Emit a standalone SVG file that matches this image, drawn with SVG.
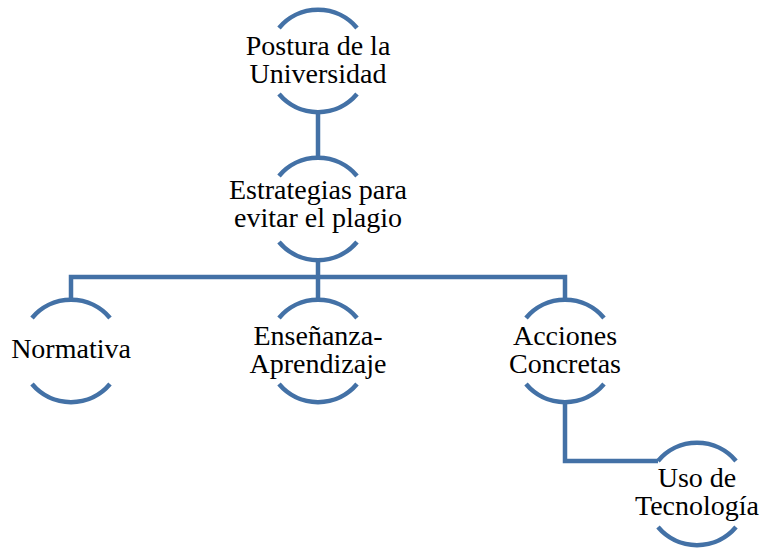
<svg xmlns="http://www.w3.org/2000/svg" width="761" height="549" viewBox="0 0 761 549">
<style>
.arc{fill:none;stroke:#4371A6;stroke-width:4.5;}
.con{fill:none;stroke:#4371A6;stroke-width:4.5;stroke-linejoin:miter;}
.t{font-family:"Liberation Serif","Times New Roman",serif;font-size:28px;fill:#000;text-anchor:middle;}
</style>
<rect width="761" height="549" fill="#fff"/>
<g id="connectors">
<path class="con" d="M318 112V158"/>
<path class="con" d="M318 260V300"/>
<path class="con" d="M71 300V277H565V300"/>
<path class="con" d="M565 402V461H658"/>
</g>
<g id="node-postura">
<path class="arc" d="M279 28A51 51 0 0 1 357 28"/>
<path class="arc" d="M279 94A51 51 0 0 0 357 94"/>
<text class="t"><tspan x="318" y="55">Postura de la</tspan><tspan x="318" y="83">Universidad</tspan></text>
</g>
<g id="node-estrategias">
<path class="arc" d="M279 176A51 51 0 0 1 357 176"/>
<path class="arc" d="M279 242A51 51 0 0 0 357 242"/>
<text class="t"><tspan x="318" y="199">Estrategias para</tspan><tspan x="318" y="227">evitar el plagio</tspan></text>
</g>
<g id="node-normativa">
<path class="arc" d="M32 318A51 51 0 0 1 110 318"/>
<path class="arc" d="M32 384A51 51 0 0 0 110 384"/>
<text class="t" x="71" y="358">Normativa</text>
</g>
<g id="node-ensenanza">
<path class="arc" d="M279 318A51 51 0 0 1 357 318"/>
<path class="arc" d="M279 384A51 51 0 0 0 357 384"/>
<text class="t"><tspan x="318" y="345">Enseñanza-</tspan><tspan x="318" y="373">Aprendizaje</tspan></text>
</g>
<g id="node-acciones">
<path class="arc" d="M526 318A51 51 0 0 1 604 318"/>
<path class="arc" d="M526 384A51 51 0 0 0 604 384"/>
<text class="t"><tspan x="565" y="345">Acciones</tspan><tspan x="565" y="373">Concretas</tspan></text>
</g>
<g id="node-uso">
<path class="arc" d="M658 461A51 51 0 0 1 736 461"/>
<path class="arc" d="M658 527A51 51 0 0 0 736 527"/>
<text class="t"><tspan x="697" y="487">Uso de</tspan><tspan x="697" y="515">Tecnología</tspan></text>
</g>
</svg>
